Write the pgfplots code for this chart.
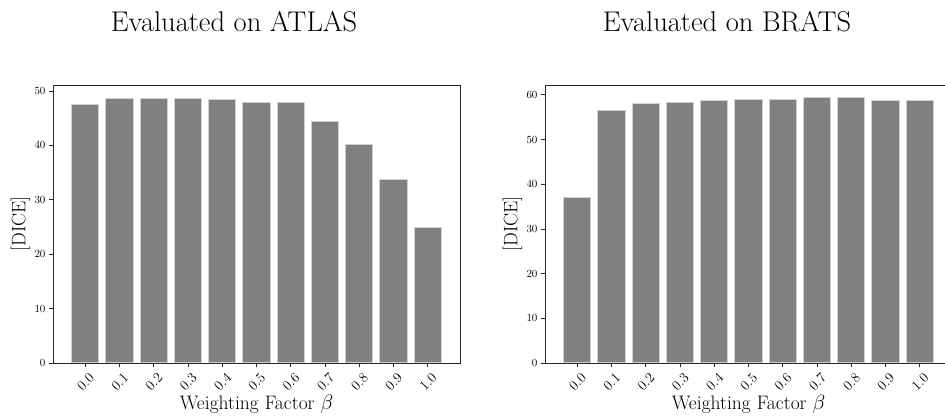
\documentclass[border=0pt]{standalone}
\usepackage{pgfplots}
\pgfplotsset{compat=1.18}
\begin{document}
\begin{tikzpicture}
\path[use as bounding box] (0pt,0pt) rectangle (945pt,420pt);
\clip (0pt,0pt) rectangle (945pt,420pt);
\pgfplotsset{
  dice/.style={
    scale only axis,
    width=407pt, height=278pt,
    ybar, bar width=0.8,
    xmin=-0.94, xmax=10.94,
    ymin=0,
    xtick={0,...,10},
    xticklabels={0.0,0.1,0.2,0.3,0.4,0.5,0.6,0.7,0.8,0.9,1.0},
    xtick pos=left, ytick pos=left,
    tick align=outside,
    major tick length=4pt,
    minor tick num=0,
    axis line style={black!85, line width=0.9pt},
    every tick/.style={black!85, line width=0.8pt},
    xticklabel style={font=\fontsize{14}{16}\selectfont, rotate=45, anchor=north east, xshift=2pt, yshift=-2.5pt},
    yticklabel style={font=\fontsize{10.5}{12}\selectfont},
    xlabel={Weighting Factor $\beta$},
    ylabel={[DICE]},
    label style={font=\fontsize{19.5}{22}\selectfont},
    xlabel style={at={(axis description cs:0.5,-0.169)}, anchor=base},
    ylabel style={at={(axis description cs:-0.08,0.5)}, anchor=center},
  }
}
\begin{axis}[dice, at={(53pt,57pt)}, anchor=south west, ymax=51.1, ytick={0,10,20,30,40,50}]
\addplot[fill=black!50, draw=black!18, line width=1pt] coordinates {(0,47.55) (1,48.6) (2,48.7) (3,48.7) (4,48.35) (5,47.85) (6,47.85) (7,44.4) (8,40.25) (9,33.7) (10,24.9)};
\end{axis}
\begin{axis}[dice, at={(545pt,57pt)}, anchor=south west, ymax=62.2, ytick={0,10,20,30,40,50,60}]
\addplot[fill=black!50, draw=black!18, line width=1pt] coordinates {(0,36.95) (1,56.6) (2,57.95) (3,58.25) (4,58.8) (5,58.95) (6,58.95) (7,59.3) (8,59.3) (9,58.8) (10,58.65)};
\end{axis}
\node[anchor=base, font=\fontsize{28.5}{34}\selectfont] at (234pt,388pt) {Evaluated on ATLAS};
\node[anchor=base, font=\fontsize{28.5}{34}\selectfont] at (727pt,388pt) {Evaluated on BRATS};
\end{tikzpicture}
\end{document}
